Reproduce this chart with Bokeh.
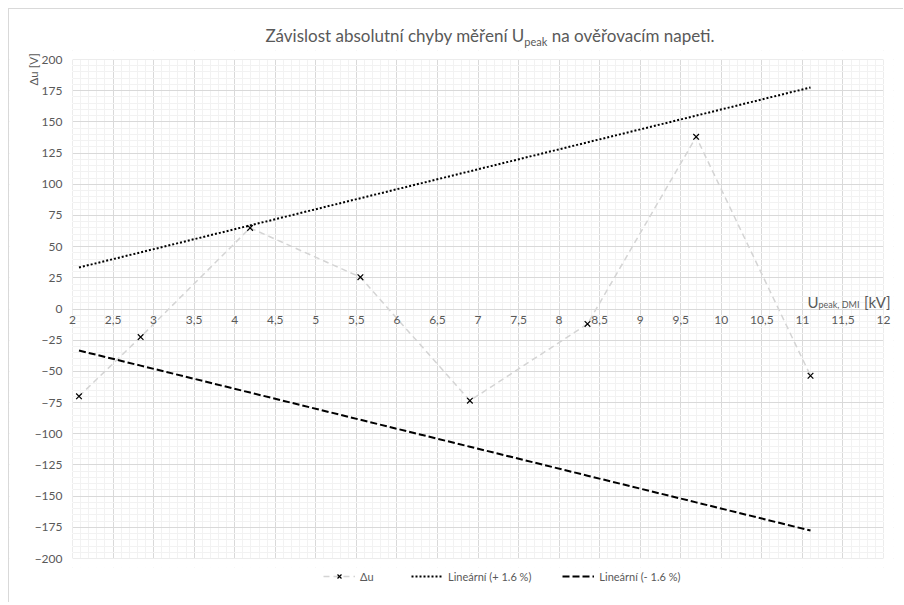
import math
from bokeh.plotting import figure
from bokeh.layouts import column
from bokeh.models import (Range1d, FixedTicker, CustomJSTickFormatter, Label,
                          Legend, LegendItem, Div, BoxAnnotation)
from bokeh.embed import file_html
from bokeh.resources import INLINE

# ---- data ----
u_kv = [2.08, 2.84, 4.19, 5.55, 6.90, 8.35, 9.69, 11.10]          # U peak, DMI [kV]
du = [-70.0, -22.5, 65.0, 25.5, -73.5, -12.0, 138.0, -53.5]        # Δu [V]
tol_plus = [33.3, 45.4, 67.0, 88.8, 110.4, 133.6, 155.0, 177.6]    # + 1.6 %
tol_minus = [-33.3, -45.4, -67.0, -88.8, -110.4, -133.6, -155.0, -177.6]  # - 1.6 %

x_ticks = [2, 2.5, 3, 3.5, 4, 4.5, 5, 5.5, 6, 6.5, 7, 7.5, 8, 8.5, 9, 9.5,
           10, 10.5, 11, 11.5, 12]
y_ticks = [-200, -175, -150, -125, -100, -75, -50, -25, 0, 25, 50, 75, 100,
           125, 150, 175, 200]
x_minor = [round(2 + i * 0.1, 1) for i in range(101)]
y_minor = [-200 + i * 5 for i in range(81)]
X_MIN, X_MAX = 2, 12
Y_MIN, Y_MAX = -200, 200

title_main = "Závislost absolutní chyby měření U"
title_sub = "peak"
title_tail = " na ověřovacím napeti."
y_title = "Δu [V]"
legend_labels = ["Δu", "Lineární (+ 1.6 %)", "Lineární (- 1.6 %)"]

FONT = "Lato"
TXT = "#595959"
GRID = "#d9d9d9"
MINOR = "#f2f2f2"

S_DU = dict(line_color="#d4d4d4", line_dash="6 4", line_width=1.5)
S_PT = dict(marker="x", size=8, line_color="black", line_width=1.2)
S_PLUS = dict(line_color="black", line_dash="2 2", line_width=2)
S_MINUS = dict(line_color="black", line_dash="7 3", line_width=2)

# ---- title (HTML so the subscript is real text) ----
title_html = (
    '<div style="width:826px;margin-left:68px;text-align:center;padding-top:16px;'
    'font-family:Lato;font-size:17px;line-height:21px;color:#595959;'
    'white-space:nowrap">'
    f'{title_main}<sub style="font-size:11px;line-height:0">{title_sub}</sub>{title_tail}'
    '</div>'
)
title_div = Div(text=title_html, width=894, height=40, margin=0)

# ---- main plot: the frame is a little larger than the chart area so that
# the axis texts (drawn inside the frame) are not cut ----
PX_X = 81.1    # pixels per kV
PX_Y = 1.2475  # pixels per V
x_range = Range1d(X_MIN - 63 / PX_X, X_MAX + 10 / PX_X)
y_range = Range1d(Y_MIN - 9 / PX_Y, Y_MAX + 9 / PX_Y)

p = figure(width=894, height=519, output_backend="svg", toolbar_location=None,
           title=None, x_range=x_range, y_range=y_range,
           min_border_left=0, min_border_right=10, min_border_top=1,
           min_border_bottom=1)
p.outline_line_color = None
p.background_fill_color = "white"
p.border_fill_color = "white"

xt = FixedTicker(ticks=x_ticks, minor_ticks=x_minor)
yt = FixedTicker(ticks=y_ticks, minor_ticks=y_minor)
p.xaxis.ticker = xt
p.yaxis.ticker = yt
p.xgrid.ticker = xt
p.ygrid.ticker = yt
for g in (p.xgrid, p.ygrid):
    g.grid_line_color = GRID
    g.grid_line_width = 1
    g.minor_grid_line_color = MINOR
    g.minor_grid_line_width = 1

# white masks outside the chart area (above the grid, below the data)
for kw in (dict(right=X_MIN), dict(left=X_MAX), dict(bottom=Y_MAX), dict(top=Y_MIN)):
    p.add_layout(BoxAnnotation(fill_color="white", fill_alpha=1.0, line_alpha=0,
                               level="underlay", **kw))

p.xaxis.fixed_location = 0
p.yaxis.fixed_location = X_MIN
p.xaxis.bounds = (X_MIN, X_MAX)
p.xaxis.formatter = CustomJSTickFormatter(code="return tick.toString().replace('.', ',')")
for ax in (p.xaxis, p.yaxis):
    ax.major_tick_line_color = None
    ax.minor_tick_line_color = None
    ax.major_tick_out = 0
    ax.major_tick_in = 0
    ax.minor_tick_out = 0
    ax.minor_tick_in = 0
    ax.major_label_text_font = FONT
    ax.major_label_text_font_size = "12px"
    ax.major_label_text_color = TXT
p.xaxis.axis_line_color = GRID
p.yaxis.axis_line_color = None
p.xaxis.major_label_standoff = 7
p.yaxis.major_label_standoff = 10

p.line(u_kv, du, **S_DU)
p.scatter(u_kv, du, **S_PT)
p.line(u_kv, tol_plus, **S_PLUS)
p.line(u_kv, tol_minus, **S_MINUS)


def lab(text, x, y, xo, yo, size, align="left", angle=0.0, baseline="alphabetic"):
    p.add_layout(Label(x=x, y=y, x_offset=xo, y_offset=yo, text=text,
                       text_font=FONT, text_font_size=size, text_color=TXT,
                       text_align=align, text_baseline=baseline, angle=angle))


# x axis title, anchored at the right end of the zero line
lab("[kV]", X_MAX, 0, 7, 7, "15px", align="right")
lab("peak, DMI", X_MAX, 0, -65, 5, "9px")
lab("U", X_MAX, 0, -76, 7, "15px")
# y axis title, at the top left
lab(y_title, X_MIN, Y_MAX, -39, -26, "11.5px", angle=math.pi / 2, baseline="middle")

# ---- legend strip (legend proxies carry the same styles) ----
pl = figure(width=894, height=34, output_backend="svg", toolbar_location=None,
            title=None, x_axis_type=None, y_axis_type=None,
            min_border=0, x_range=Range1d(0, 1), y_range=Range1d(0, 1))
pl.outline_line_color = None
pl.grid.visible = False
nan = [float("nan")]
g_du = pl.line(nan, nan, **S_DU)
g_pt = pl.scatter(nan, nan, **S_PT)
g_plus = pl.line(nan, nan, **S_PLUS)
g_minus = pl.line(nan, nan, **S_MINUS)
legend = Legend(items=[
    LegendItem(label=legend_labels[0], renderers=[g_du, g_pt]),
    LegendItem(label=legend_labels[1], renderers=[g_plus]),
    LegendItem(label=legend_labels[2], renderers=[g_minus]),
], orientation="horizontal", location=(314, 19), margin=0, padding=0,
    spacing=31, glyph_width=32, glyph_height=14, label_standoff=5,
    label_text_font=FONT, label_text_font_size="11px", label_text_color=TXT,
    background_fill_alpha=0, border_line_color=None)
pl.add_layout(legend)

layout = column(title_div, p, pl, spacing=0,
                styles={"margin": "8px 0 0 8px",
                        "border-top": "1px solid #d9d9d9",
                        "border-left": "1px solid #d9d9d9"})

open("out.html", "w").write(file_html(layout, INLINE))
